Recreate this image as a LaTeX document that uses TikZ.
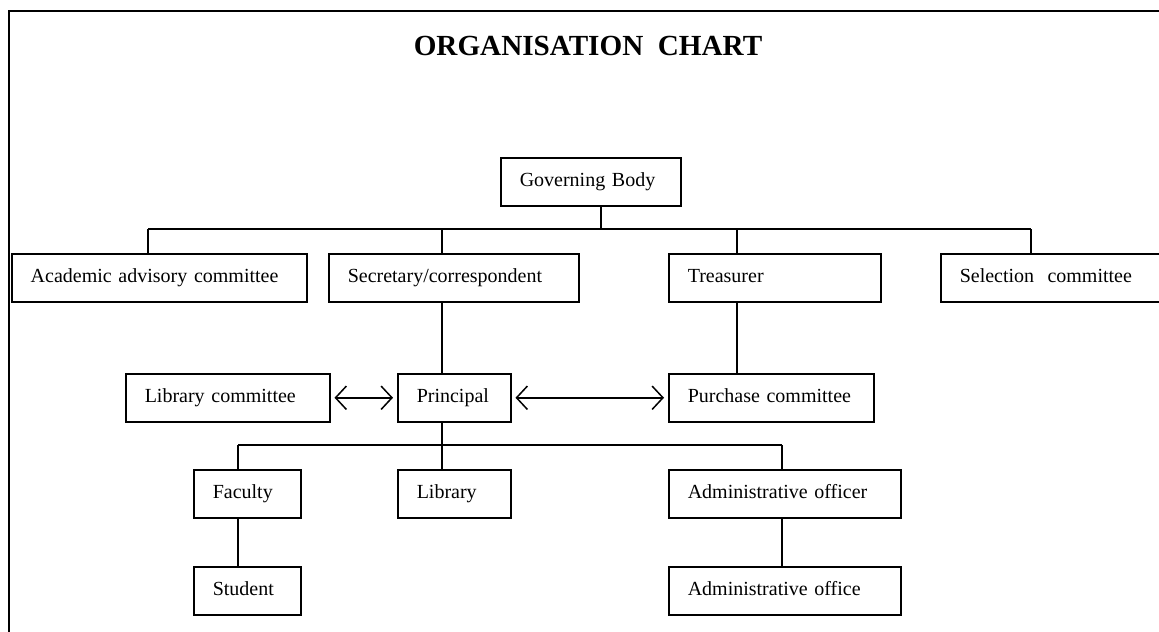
\documentclass[tikz,border=0pt]{standalone}
\usepackage{fontspec}
\setmainfont{Liberation Serif}
\usetikzlibrary{arrows.meta}

\begin{document}
\begin{tikzpicture}[x=0.6pt, y=-0.6pt, line width=0.9pt,
    blk/.style={draw, anchor=north west, minimum height=28.8pt, inner xsep=11.4pt, inner ysep=0pt,
        text width={#1*0.6pt-22.8pt}, align=left, font=\fontsize{12}{14}\selectfont,
        execute at begin node=\strut},
    twoway/.style={{Straight Barb[length=6.5pt, width=14pt]}-{Straight Barb[length=6.5pt, width=14pt]},
        shorten >=2.4pt, shorten <=2.4pt}]
    \useasboundingbox (0, 0) rectangle (1159, 631);

    % frame
    \draw[line width=1.6pt] (9, 640) -- (9, 11) -- (1170, 11);

    \node[font=\fontsize{17.5}{20}\selectfont\bfseries] (title) at (588, 46) {ORGANISATION~~CHART};

    \node[blk=180] (gov) at (500, 157) {Governing Body};

    \node[blk=295] (acad) at (11, 253) {Academic advisory committee};
    \node[blk=250] (secr) at (328, 253) {Secretary/correspondent};
    \node[blk=212] (treas) at (668, 253) {Treasurer};
    \node[blk=222] (sel) at (940, 253) {Selection~~committee};

    \node[blk=204] (libc) at (125, 373) {Library committee};
    \node[blk=113] (prin) at (397, 373) {Principal};
    \node[blk=205] (purch) at (668, 373) {Purchase committee};

    \node[blk=107] (fac) at (193, 469) {Faculty};
    \node[blk=113] (lib) at (397, 469) {Library};
    \node[blk=232] (adof) at (668, 469) {Administrative officer};

    \node[blk=107] (stud) at (193, 566) {Student};
    \node[blk=232] (adoff) at (668, 566) {Administrative office};

    % junctions
    \coordinate (gj) at (601, 229);
    \coordinate (ba) at (148, 229);
    \coordinate (bs) at (442, 229);
    \coordinate (bt) at (737, 229);
    \coordinate (bc) at (1031, 229);
    \coordinate (bf) at (238, 445);
    \coordinate (pj) at (442, 445);
    \coordinate (bo) at (782, 445);

    \draw (gov.south -| gj) -- (gj);
    \draw (ba) -- (bc);
    \foreach \c/\n in {ba/acad, bs/secr, bt/treas, bc/sel}
        \draw (\c) -- (\c |- \n.north);

    \draw (secr.south -| bs) -- (bs |- prin.north);
    \draw (treas.south -| bt) -- (bt |- purch.north);

    \draw[twoway] (libc) -- (prin);
    \draw[twoway] (prin) -- (purch);

    \draw (prin.south -| pj) -- (pj |- lib.north);
    \draw (bf) -- (bo);
    \draw (bf) -- (bf |- fac.north);
    \draw (bo) -- (bo |- adof.north);
    \draw (fac.south -| bf) -- (bf |- stud.north);
    \draw (adof.south -| bo) -- (bo |- adoff.north);
\end{tikzpicture}
\end{document}
